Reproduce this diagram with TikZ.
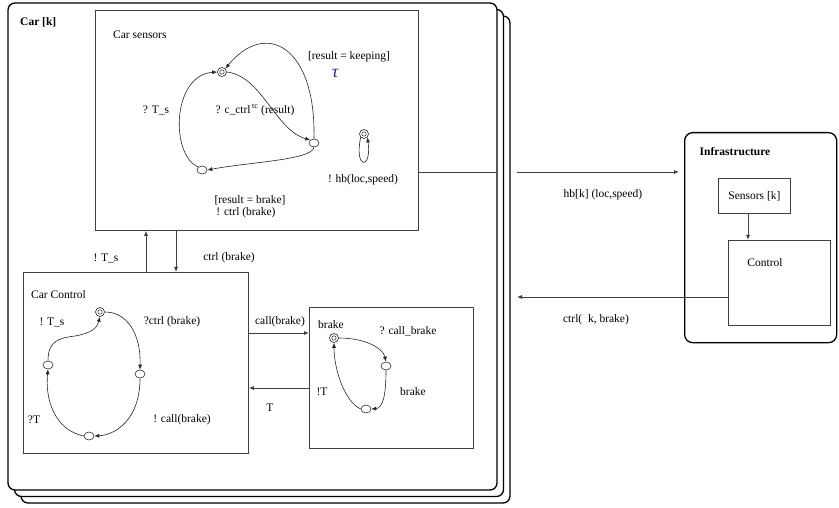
\documentclass[tikz,border=0pt]{standalone}
\usepackage{fontspec}
\setmainfont{Liberation Serif}
\usetikzlibrary{arrows.meta,shapes.geometric}
\begin{document}
\begin{tikzpicture}[x=1pt,y=-1pt,
 frame/.style={draw=black, line width=1.3pt, fill=white, rounded corners=7pt},
 box/.style={draw=black!75, line width=0.8pt, anchor=north west, inner sep=0pt, font=\fontsize{11.5}{13}\selectfont},
 st/.style={draw=black!85, ellipse, line width=0.6pt, minimum width=10pt, minimum height=8pt, inner sep=0pt, fill=white},
 ini/.style={draw=black!85, circle, line width=0.6pt, minimum size=9pt, inner sep=0pt, fill=white,
   path picture={\draw[black!85, line width=0.5pt] (path picture bounding box.center) circle (2.2pt);}},
 arr/.style={-{Latex[length=5pt,width=4pt]}, black!85, line width=0.6pt},
 conn/.style={black!75, line width=0.8pt},
 carr/.style={conn, -{Latex[length=5pt,width=4pt]}},
 lbl/.style={inner sep=0pt, font=\fontsize{11.5}{13}\selectfont},
 blbl/.style={inner sep=0pt, font=\fontsize{11.5}{13}\selectfont\bfseries}
]
\useasboundingbox (0,0) rectangle (839,508);
% stacked Car frames
\draw[frame] (21,16) rectangle (510,503);
\draw[frame] (14.5,9.5) rectangle (503.5,496.5);
\draw[frame] (8,3) rectangle (497,490);
\node[blbl, anchor=west] (tcar) at (20,22) {Car [k]};

% Car sensors
\node[box, minimum width=323pt, minimum height=220pt] (sens) at (95,10) {};
\node[lbl, anchor=west] (tcs) at (113,35) {Car sensors};
\node[ini] (cs0) at (222,72) {};
\node[st] (cs1) at (314,143) {};
\node[st] (cs2) at (202,170) {};
\node[ini] (cs3) at (364,134) {};
\draw[arr] (cs0.east) .. controls (262,76) and (275,130) .. (cs1.north west);
\draw[arr] (cs1.north) .. controls (316,45) and (265,20) .. (cs0.north east);
\draw[arr] (cs1.south) .. controls (312,160) and (250,162) .. (cs2.east);
\draw[arr] (cs2.north west) .. controls (170,155) and (172,75) .. (cs0.west);
\draw[arr] (cs3.south west) .. controls (354,170) and (372,170) .. (cs3.south east);
\node[lbl] (lkeep) at (349,57) {[result = keeping]};
\node[inner sep=0pt, font=\fontsize{18}{18}\selectfont\itshape, text={rgb,255:red,30;green,45;blue,140}] (ltau) at (335,73) {τ};
\node[lbl] (lts1) at (156,110) {? T\_s};
\node[lbl] (lcc) at (255,110) {? c\_ctrl\textsuperscript{\,tc} (result)};
\node[lbl] (lhb) at (363,180) {! hb(loc,speed)};
\node[lbl] (lrb) at (250,200) {[result = brake]};
\node[lbl] (lcb) at (246,213) {! ctrl (brake)};

% Car Control
\node[box, minimum width=225pt, minimum height=181pt] (ctl) at (23,272) {};
\node[lbl, anchor=west] (tcc) at (31,295) {Car Control};
\node[ini] (cc0) at (100,312) {};
\node[st] (cc1) at (140,374) {};
\node[st] (cc2) at (89,436) {};
\node[st] (cc3) at (48,365) {};
\draw[arr] (cc0.east) .. controls (128,312) and (141,335) .. (cc1.north);
\draw[arr] (cc1.south) .. controls (140,420) and (115,435) .. (cc2.east);
\draw[arr] (cc2.west) .. controls (55,430) and (45,400) .. (cc3.south);
\draw[arr] (cc3.north) .. controls (48,340) and (60,338) .. (75,336) .. controls (92,333) and (97,328) .. (cc0.south);
\node[lbl] (lts2) at (52,322) {! T\_s};
\node[lbl] (lcb2) at (172,322) {?ctrl (brake)};
\node[lbl] (lt2) at (34,420) {?T};
\node[lbl] (lcall) at (182,420) {! call(brake)};

% between sensors and control
\coordinate (xa) at (146,0);
\coordinate (xb) at (176,0);
\draw[carr] (xa |- ctl.north) -- (xa |- sens.south);
\draw[carr] (xb |- sens.south) -- (xb |- ctl.north);
\node[lbl] (lts3) at (106,258) {! T\_s};
\node[lbl] (lcb3) at (229,258) {ctrl (brake)};

% brake box
\node[box, minimum width=164pt, minimum height=141pt] (brk) at (309,307) {};
\node[ini] (b0) at (334,338) {};
\node[st] (b1) at (386,366) {};
\node[st] (b2) at (366,409) {};
\draw[arr] (b0.east) .. controls (365,338) and (383,348) .. (b1.north);
\draw[arr] (b1.south) .. controls (386,395) and (383,408) .. (b2.east);
\draw[arr] (b2.west) .. controls (345,402) and (334,370) .. (b0.south);
\node[lbl] (lbr1) at (331,325) {brake};
\node[lbl] (lcbr) at (408,331) {? call\_brake};
\node[lbl] (lt3) at (322,392) {!T};
\node[lbl] (lbr2) at (413,392) {brake};

\coordinate (ya) at (0,333);
\coordinate (yb) at (0,388);
\draw[carr] (ctl.east |- ya) -- (brk.west |- ya);
\draw[carr] (brk.west |- yb) -- (ctl.east |- yb);
\node[lbl] (lcall2) at (280,322) {call(brake)};
\node[lbl] (lT) at (270,408) {T};

% Infrastructure
\node[draw=black, line width=1.3pt, rounded corners=8pt, anchor=north west, inner sep=0pt, minimum width=152pt, minimum height=210pt] (infra) at (684,132) {};
\node[blbl] (tinf) at (735,152) {Infrastructure};
\node[box, minimum width=72pt, minimum height=35pt] (isens) at (718,178) {Sensors [k]};
\node[box, minimum width=102pt, minimum height=85pt] (ictl) at (728,240) {};
\node[lbl] (tctl) at (765,263) {Control};
\coordinate (xs) at (748,0);
\draw[carr] (xs |- isens.south) -- (xs |- ictl.north);

% hb arrow
\coordinate (h1) at (497,172);
\coordinate (h2) at (517,172);
\draw[conn] (sens.east |- h1) -- (h1);
\draw[carr, shorten >=5pt] (h2) -- (infra.west |- h2);
\node[lbl] (lhb2) at (603,195) {hb[k] (loc,speed)};

% ctrl arrow
\coordinate (c4) at (517,297);
\draw[carr] (ictl.west |- c4) -- (c4);
\node[lbl] (lctrl) at (596,320) {ctrl(\ \ k, brake)};
\end{tikzpicture}
\end{document}
